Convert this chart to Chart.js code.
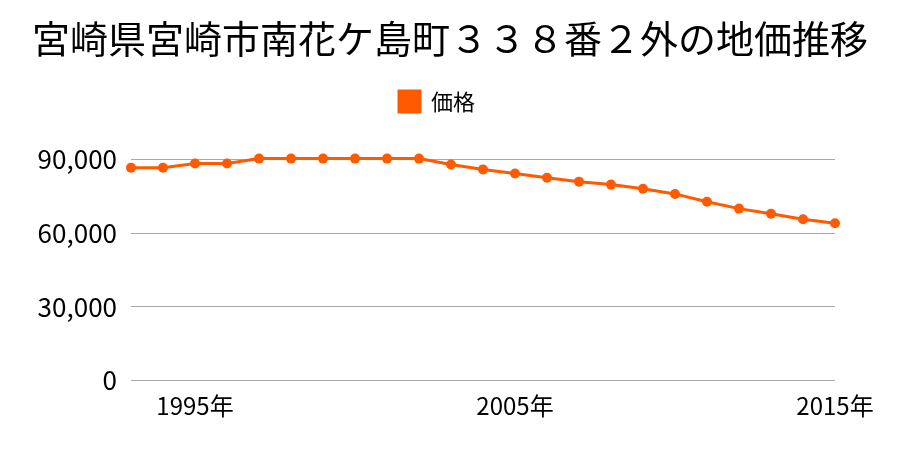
<!DOCTYPE html>
<html>
<head>
<meta charset="utf-8">
<script src="https://cdn.jsdelivr.net/npm/chart.js@4/dist/chart.umd.min.js"></script>
<style>
  html, body { margin: 0; padding: 0; background: #fff; }
  #wrap { width: 900px; height: 450px; }
</style>
</head>
<body>
<div id="wrap"><canvas id="chart" width="900" height="450"></canvas></div>
<script>
const years = [1993, 1994, 1995, 1996, 1997, 1998, 1999, 2000, 2001, 2002, 2003, 2004,
  2005, 2006, 2007, 2008, 2009, 2010, 2011, 2012, 2013, 2014, 2015];
const prices = [86700, 86700, 88400, 88400, 90400, 90400, 90400, 90400, 90400, 90400, 88000, 86000,
  84300, 82600, 81000, 79800, 78100, 76000, 72800, 70000, 67900, 65700, 64000];
const shownYears = [1995, 2005, 2015];
const yTicks = [0, 30000, 60000, 90000];

const font = "'Noto Sans CJK JP', 'Noto Sans', sans-serif";
const orange = "#ff5a00";

// push the plot down below the legend, and centre title/legend like the original
const layoutTweaks = {
  id: "layoutTweaks",
  beforeInit(chart) {
    const origFit = chart.legend.fit;
    chart.legend.fit = function () {
      origFit.bind(chart.legend)();
      this.height += 37;
    };
  },
  afterLayout(chart) {
    // full canvas width so the title is centred and not squeezed
    chart.titleBlock.left = 0;
    chart.titleBlock.right = chart.width;
    chart.legend.left += 4;
    chart.legend.right += 4;
  },
};

const myChart = new Chart(document.getElementById("chart"), {
  type: "line",
  data: {
    labels: years.map((y) => String(y)),
    datasets: [
      {
        label: "価格",
        data: prices,
        borderColor: orange,
        backgroundColor: orange,
        borderWidth: 3,
        pointRadius: 5,
        pointHoverRadius: 5,
        pointBorderWidth: 0,
        tension: 0,
        clip: false,
      },
    ],
  },
  options: {
    responsive: false,
    animation: false,
    layout: { padding: { left: 31, right: 65, top: 16, bottom: 27 } },
    plugins: {
      title: {
        display: true,
        text: "宮崎県宮崎市南花ケ島町３３８番２外の地価推移",
        color: "#000",
        font: { family: font, size: 38, weight: "normal" },
        padding: { top: 0, bottom: 19 },
      },
      legend: {
        labels: {
          color: "#000",
          font: { family: font, size: 22 },
          boxWidth: 21,
          boxHeight: 21,
          padding: 10,
        },
      },
      tooltip: { enabled: false },
    },
    scales: {
      x: {
        offset: false,
        grid: { display: false },
        border: { display: false },
        ticks: {
          autoSkip: false,
          maxRotation: 0,
          color: "#000",
          font: { family: font, size: 24 },
          callback: function (value) {
            const y = years[value];
            return shownYears.includes(y) ? y + "年" : null;
          },
        },
      },
      y: {
        min: 0,
        max: 90000,
        border: { display: false },
        grid: { color: "#aaaaaa", lineWidth: 1, drawTicks: false },
        afterBuildTicks: (axis) => {
          axis.ticks = yTicks.map((v) => ({ value: v }));
        },
        afterFit: (axis) => {
          axis.width = 100;
        },
        ticks: {
          color: "#000",
          padding: 14,
          font: { family: font, size: 26 },
          callback: (v) => v.toLocaleString("en-US"),
        },
      },
    },
  },
  plugins: [layoutTweaks],
});
</script>
</body>
</html>
